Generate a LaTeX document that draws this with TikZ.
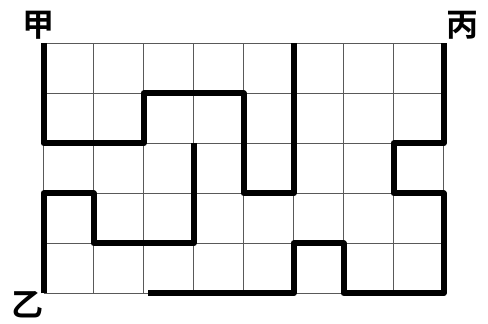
\documentclass[tikz,border=0pt]{standalone}
\usepackage{fontspec}
\newfontfamily\cjk[BoldFont={Noto Sans CJK SC Bold}]{Noto Sans CJK SC}
\begin{document}
\begin{tikzpicture}[x=1pt,y=-1pt,
  gridline/.style={draw=black!65,line width=0.9pt},
  route/.style={draw=black,line width=6pt,line join=round,line cap=butt},
  cornerlabel/.style={font=\cjk\bfseries\fontsize{32}{32}\selectfont,inner sep=0pt}]
\useasboundingbox (0,0) rectangle (488,324);
\foreach \i in {0,...,8}{
  \foreach \j in {0,...,5}{
    \coordinate (g-\i-\j) at ({43.5+50*\i},{43.3+50*\j});
  }
}
\coordinate (s2) at (148,293.3);
% grid
\foreach \i in {0,...,8}{\draw[gridline] (g-\i-0) -- (g-\i-5);}
\foreach \j in {0,...,5}{\draw[gridline] (g-0-\j) -- (g-8-\j);}
% routes
\draw[route] (g-0-0) -- (g-0-2) -- (g-2-2) -- (g-2-1) -- (g-4-1) -- (g-4-3) -- (g-5-3) -- (g-5-0);
\draw[route] (g-8-0) -- (g-8-2) -- (g-7-2) -- (g-7-3) -- (g-8-3) -- (g-8-5) -- (g-6-5) -- (g-6-4) -- (g-5-4) -- (g-5-5) -- (s2);
\draw[route] (g-0-5) -- (g-0-3) -- (g-1-3) -- (g-1-4) -- (g-3-4) -- (g-3-2);
% labels
\node[cornerlabel] (jia) at (38,25) {甲};
\node[cornerlabel] (bing) at (462,25) {丙};
\node[cornerlabel] (yi) at (28,305) {乙};
\end{tikzpicture}
\end{document}
